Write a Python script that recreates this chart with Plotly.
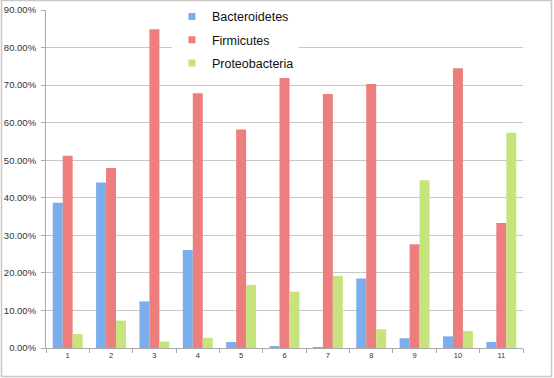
import plotly.graph_objects as go

categories = ["1", "2", "3", "4", "5", "6", "7", "8", "9", "10", "11"]
bacteroidetes = [38.7, 44.1, 12.4, 26.1, 1.6, 0.3, 0.1, 18.5, 2.6, 3.1, 1.6]
firmicutes = [51.2, 47.9, 84.9, 67.8, 58.2, 72.8, 67.6, 70.3, 27.6, 74.5, 33.3]
proteobacteria = [3.7, 7.3, 1.7, 2.7, 16.8, 15.0, 19.2, 5.0, 44.7, 4.5, 57.3]
series_names = ["Bacteroidetes", "Firmicutes", "Proteobacteria"]
series_colors = ["#7aaeed", "#ec7e7e", "#c6e47c"]
y_ticks = [0, 10, 20, 30, 40, 50, 60, 70, 80, 90]

W, H = 554, 378
ml, mr, mt, mb = 46, 31, 10, 30

fig = go.Figure()
for name, vals, col in zip(series_names, [bacteroidetes, firmicutes, proteobacteria], series_colors):
    fig.add_bar(name=name, x=categories, y=vals, showlegend=False,
                marker=dict(color=col, line=dict(width=0)))
for name, col in zip(series_names, series_colors):
    fig.add_scatter(name=name, x=[None], y=[None], mode="markers", legendgroup=name,
                    marker=dict(symbol="square", size=7, color=col))

pw = W - ml - mr
ph = H - mt - mb
fig.add_shape(type="rect", xref="paper", yref="paper",
              x0=-(ml - 1.5) / pw, x1=1 + (mr - 2.5) / pw,
              y0=-(mb - 1.5) / ph, y1=1 + (mt - 0.5) / ph,
              line=dict(color="#c8c8c8", width=1.5), layer="below")

fig.update_layout(
    width=W, height=H,
    margin=dict(l=ml, r=mr, t=mt, b=mb, autoexpand=False),
    paper_bgcolor="white", plot_bgcolor="white",
    barmode="group", bargap=0.31, bargroupgap=0,
    font=dict(family="Liberation Sans, Arial, sans-serif", color="#333333"),
    legend=dict(x=0.264, y=1.024, xanchor="left", yanchor="top",
                bgcolor="white", font=dict(size=12.5, color="#111111"),
                itemwidth=30, tracegroupgap=4),
    xaxis=dict(type="category", showline=True, linecolor="#a8a8a8", linewidth=1,
               ticks="outside", tickson="boundaries", ticklen=4, tickcolor="#a8a8a8",
               automargin=False,
               tickfont=dict(size=7.5, color="#333333"), showgrid=False),
    yaxis=dict(range=[0, 90], tickvals=y_ticks,
               ticktext=[f"{v:.2f}%" for v in y_ticks],
               showline=True, linecolor="#a8a8a8", linewidth=1, automargin=False,
               ticks="outside", ticklen=4, tickcolor="#a8a8a8", ticklabelstandoff=3,
               gridcolor="#c8c8c8", gridwidth=1, zeroline=False,
               tickfont=dict(size=9.5, color="#333333")),
)

fig.write_html("out.html", config={"displayModeBar": False},
               post_script="document.body.style.margin='0';document.body.style.padding='0';document.body.style.overflow='hidden';")
